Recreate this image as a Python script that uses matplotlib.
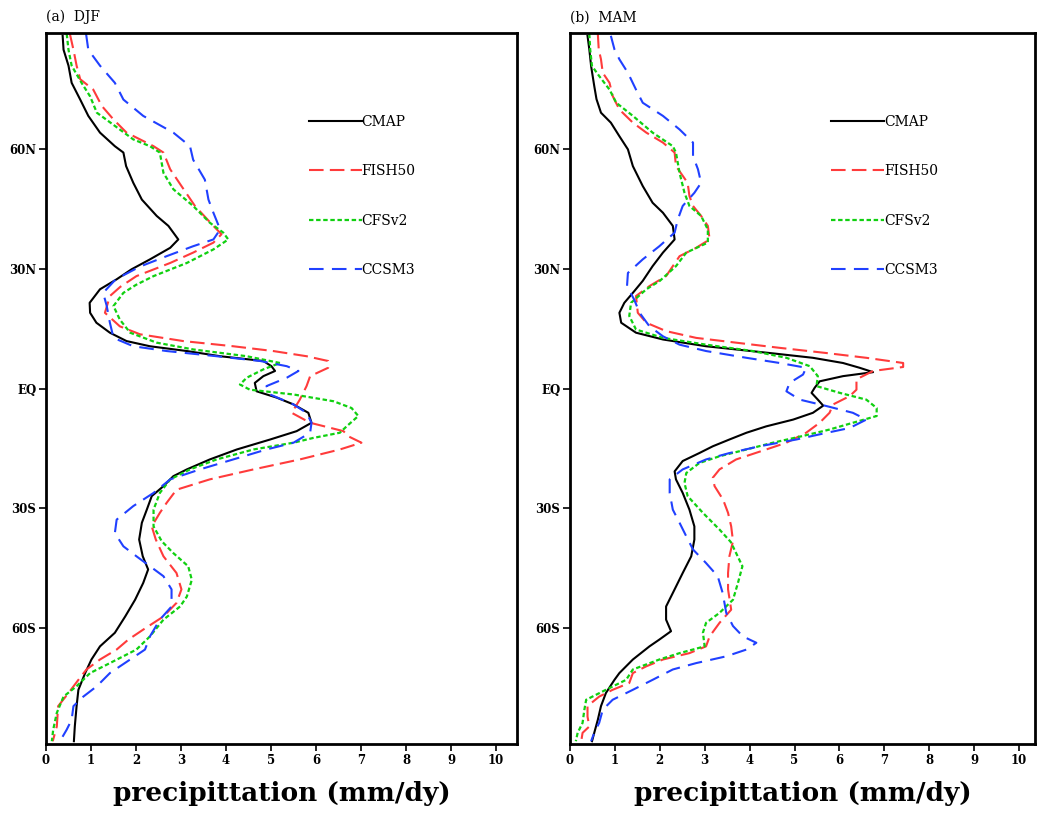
import matplotlib
matplotlib.use("Agg")
import matplotlib.pyplot as plt

# ---------------- data: (a) DJF ----------------
djf_cmap_lat = [88.5, 85, 81, 76.7, 72.5, 68.4, 64.2, 60.8, 59.2, 55.8, 51.6, 47.4, 43.3, 40.8, 37.4, 35.3, 32.4, 29.9,
                27.4, 24.9, 21.5, 19, 16.5, 14, 11.9, 10.6, 9.4, 8.1, 6.9, 5.6, 4.4, 3.1, 1.4, -0.7, -2.3, -4, -6.1, -8.6,
                -10.7, -12.8, -15.3, -17.8, -20.3, -22, -24.5, -27, -30.4, -33.7, -37.9, -42.1, -45.4, -48.8, -53, -57.2,
                -61.3, -64.7, -68, -71.4, -75.6, -79.7, -84.8, -88.5]
djf_cmap_val = [0.37, 0.39, 0.50, 0.57, 0.76, 0.94, 1.20, 1.53, 1.72, 1.78, 1.94, 2.13, 2.46, 2.72, 2.94, 2.76, 2.31, 1.90,
                1.57, 1.20, 0.97, 0.98, 1.12, 1.42, 1.79, 2.31, 3.13, 3.87, 4.83, 5.01, 5.09, 4.83, 4.64, 4.68, 5.13, 5.50,
                5.83, 5.90, 5.57, 4.98, 4.24, 3.64, 3.13, 2.83, 2.61, 2.35, 2.24, 2.13, 2.07, 2.15, 2.27, 2.16, 1.98, 1.76,
                1.53, 1.20, 1.01, 0.87, 0.72, 0.68, 0.64, 0.62]

djf_fish_lat = [89, 85, 81, 77.6, 75, 70.9, 67.5, 64.2, 60.8, 59.2, 55, 50.8, 45.8, 40.8, 38.7, 36.6, 34.1, 31.5, 28.2,
                25.5, 23.2, 19, 15.6, 13.6, 11.9, 10.6, 9.4, 8.1, 6.9, 5.2, 3.1, 0.6, -2.8, -6.1, -8.6, -10.7, -12,
                -13.6, -15.3, -17.8, -20.3, -22.8, -25.4, -28.7, -31.2, -34.6, -37.9, -42.1, -46.3, -50.4, -53.8, -57.2,
                -60.5, -63, -65.5, -68, -70.5, -73.1, -76.4, -79.7, -84.8, -88.5]
djf_fish_val = [0.53, 0.61, 0.68, 0.76, 1.05, 1.24, 1.50, 1.79, 2.39, 2.61, 2.76, 3.01, 3.31, 3.72, 3.90, 3.72, 3.27, 2.76,
                2.01, 1.65, 1.42, 1.31, 1.64, 2.09, 3.05, 4.16, 5.05, 5.79, 6.27, 6.27, 5.87, 5.79, 5.64, 5.46, 5.87, 6.61,
                6.72, 7.01, 6.53, 5.64, 4.61, 3.64, 2.90, 2.68, 2.53, 2.35, 2.44, 2.61, 2.90, 3.01, 2.90, 2.61, 2.16, 1.83,
                1.57, 1.20, 0.90, 0.72, 0.50, 0.27, 0.24, 0.15]

djf_cfs_lat = [89, 85, 81, 76.7, 73.3, 69.2, 65.9, 62.5, 60.8, 59.2, 54.1, 50, 45.8, 41.6, 39.1, 37.4, 34.9, 31.5, 28.2,
               26, 24, 20.7, 17.3, 14, 11.5, 9.8, 8.1, 6.4, 4.8, 2.7, 1.0, -0.3, -1.5, -3.2, -4.9, -6.9, -9.5, -11.1,
               -12.4, -13.6, -15.3, -17.8, -20.3, -22.8, -26.2, -30.4, -34.6, -38.3, -41.3, -44.6, -48, -52.2, -54.7,
               -58, -62.2, -65.5, -68.9, -71.4, -74.7, -77.3, -81.4, -85.6, -88.5]
djf_cfs_val = [0.46, 0.50, 0.57, 0.79, 0.98, 1.13, 1.53, 1.94, 2.31, 2.53, 2.61, 2.83, 3.27, 3.64, 3.94, 4.05, 3.72, 3.13,
               2.39, 2.00, 1.72, 1.50, 1.64, 1.87, 2.46, 3.27, 4.46, 5.20, 4.83, 4.46, 4.31, 4.53, 5.50, 6.39, 6.79, 6.94,
               6.68, 6.53, 5.94, 5.50, 4.61, 3.79, 3.20, 2.76, 2.53, 2.39, 2.39, 2.57, 2.83, 3.16, 3.24, 3.13, 2.98, 2.61,
               2.31, 2.01, 1.42, 0.98, 0.68, 0.39, 0.24, 0.16, 0.13]

djf_ccsm_lat = [89, 85, 81, 76.7, 72.5, 68.4, 64.2, 60.8, 57.4, 52.4, 47.4, 44.1, 39.9, 37.4, 35.7, 33.2, 30.6, 27.4, 24,
                20.7, 16.5, 12.7, 10.6, 9.4, 8.1, 6.9, 5.6, 4.4, 2.7, 0.6, -1.5, -4, -6.1, -8.6, -11.1, -13.6, -15.3,
                -17.8, -20.3, -22.8, -26.2, -29.5, -32.9, -36.3, -39.6, -42.1, -44.6, -47.1, -50.4, -54.7, -58, -62.2,
                -65.5, -68, -71.4, -74.7, -77.3, -79.7, -83.1, -85.6, -88.5]
djf_ccsm_val = [0.89, 0.94, 1.20, 1.53, 1.72, 2.16, 2.83, 3.20, 3.27, 3.53, 3.61, 3.72, 3.87, 3.72, 3.27, 2.68, 2.09, 1.55,
                1.27, 1.35, 1.42, 1.50, 1.94, 2.68, 3.79, 4.76, 5.35, 5.61, 5.35, 4.90, 4.98, 5.50, 5.79, 5.90, 5.87, 5.50,
                4.90, 4.16, 3.42, 2.76, 2.39, 1.94, 1.57, 1.53, 1.72, 2.01, 2.31, 2.61, 2.79, 2.79, 2.53, 2.31, 2.20, 1.87,
                1.42, 1.13, 0.83, 0.61, 0.57, 0.46, 0.31]

# ---------------- data: (b) MAM ----------------
mam_cmap_lat = [88.5, 85.1, 80.9, 75.9, 72.6, 69.2, 66.7, 63.3, 60, 55.8, 50.8, 46.6, 44.1, 40.8, 37.4, 34.1, 30.7, 27,
                24, 21.5, 19, 16.5, 14, 12.3, 10.6, 8.9, 7.7, 6.4, 5.2, 4.1, 3.1, 1.8, 0.2, -1.1, -2.8, -4.3, -6.1, -7.8,
                -9.5, -11.1, -12.8, -14.5, -16.2, -18.2, -20.8, -22.8, -26.2, -30.4, -34.6, -37.9, -42.1, -46.3, -50.4,
                -54.7, -58, -60.9, -63, -64.7, -68, -71.4, -73.1, -76.4, -79.7, -83.1, -86.4, -88.5]
mam_cmap_val = [0.39, 0.43, 0.47, 0.54, 0.59, 0.69, 0.91, 1.10, 1.29, 1.40, 1.62, 1.84, 2.07, 2.29, 2.33, 2.07, 1.84, 1.62,
                1.40, 1.21, 1.10, 1.14, 1.47, 2.07, 3.03, 4.45, 5.41, 6.08, 6.45, 6.75, 6.08, 5.56, 5.45, 5.38, 5.52, 5.64,
                5.41, 4.97, 4.37, 3.93, 3.55, 3.18, 2.88, 2.51, 2.33, 2.36, 2.51, 2.66, 2.77, 2.77, 2.70, 2.51, 2.33, 2.14,
                2.14, 2.25, 1.99, 1.77, 1.40, 1.10, 0.99, 0.80, 0.69, 0.62, 0.54, 0.49]

mam_fish_lat = [89, 85.1, 82.6, 79.2, 76.7, 73.4, 70, 66.7, 64.2, 61.7, 59.2, 55.8, 51.6, 48.3, 45.8, 43.3, 40.8, 37.4,
                35.3, 33.2, 30.7, 28.2, 25.7, 23.2, 19, 16.5, 14.4, 12.7, 11.5, 10.2, 8.9, 7.7, 6.4, 5.4, 4.4, 2.3, -0.3,
                -1.9, -4, -6.1, -8.6, -11.1, -13.6, -15.3, -17.8, -20.3, -22.4, -24.5, -27.9, -31.2, -34.6, -38.3, -42.1,
                -46.3, -50.4, -55.5, -58.8, -62.2, -64.7, -66.4, -68, -69.7, -71.4, -73.9, -75.6, -77.3, -79.7, -82.3,
                -84.8, -86.4, -88.5]
mam_fish_val = [0.62, 0.64, 0.69, 0.73, 0.88, 0.95, 1.10, 1.40, 1.70, 2.07, 2.33, 2.36, 2.62, 2.66, 2.74, 2.92, 3.07, 3.11,
                2.81, 2.44, 2.29, 2.14, 1.77, 1.47, 1.51, 1.70, 2.14, 2.81, 3.70, 4.67, 5.71, 6.60, 7.42, 7.42, 6.75, 6.38,
                6.38, 6.23, 5.86, 5.78, 5.56, 5.26, 4.82, 4.37, 3.70, 3.33, 3.18, 3.22, 3.41, 3.52, 3.59, 3.63, 3.55, 3.52,
                3.52, 3.59, 3.33, 3.11, 3.03, 2.66, 2.07, 1.70, 1.40, 1.32, 0.95, 0.65, 0.39, 0.39, 0.43, 0.28, 0.25]

mam_cfs_lat = [89, 85, 80.9, 78.4, 75, 71.7, 68.4, 64.2, 60.8, 59.2, 54.1, 49.1, 45.8, 43.3, 39.9, 36.6, 34.1, 30.7, 27,
               24.9, 21.5, 18.2, 14.8, 12.7, 11, 9.4, 7.7, 5.6, 3.1, 0.6, -1.1, -2.8, -4.9, -6.9, -8.6, -10.3, -11.9,
               -13.6, -15.3, -17, -18.7, -21.2, -23.7, -27, -31.2, -35.4, -38.5, -41.3, -44.6, -48.8, -53, -56.3, -58.8,
               -61.3, -64.7, -66.4, -68, -70.5, -73.1, -75.6, -78.1, -80.6, -83.9, -86.4, -88.5]
mam_cfs_val = [0.43, 0.45, 0.49, 0.65, 0.88, 1.03, 1.40, 1.84, 2.29, 2.36, 2.44, 2.55, 2.66, 2.92, 3.07, 3.07, 2.59, 2.36,
               2.00, 1.70, 1.36, 1.32, 1.47, 2.07, 3.03, 4.07, 4.82, 5.34, 5.52, 5.49, 6.01, 6.60, 6.83, 6.83, 6.30, 5.78,
               5.19, 4.52, 3.93, 3.33, 2.88, 2.59, 2.55, 2.62, 2.96, 3.33, 3.58, 3.70, 3.84, 3.74, 3.63, 3.33, 3.03, 2.96,
               3.00, 2.44, 1.99, 1.40, 1.25, 0.80, 0.36, 0.32, 0.28, 0.17, 0.13]

mam_ccsm_lat = [88.5, 85.1, 82.6, 79.2, 75, 71.7, 68.4, 65, 61.7, 58.3, 55, 51.6, 49.1, 45.8, 42.4, 39.1, 35.7, 32.4, 29,
                25.7, 22.3, 19, 15.6, 13.1, 11, 9.4, 7.7, 6.4, 5.2, 3.5, 1.4, -0.7, -2.8, -4.4, -6.1, -7.8, -9.9, -11.5,
                -12.8, -14.5, -16.2, -17.8, -20.3, -22.8, -26.2, -30.4, -33.7, -37.1, -40.4, -43.8, -47.1, -51.3, -56.3,
                -59.6, -62.2, -63.8, -65.5, -67.2, -68.9, -70.5, -73.1, -75.6, -78.1, -80.6, -83.9, -86.4, -88.5]
mam_ccsm_val = [0.91, 0.99, 1.10, 1.29, 1.47, 1.62, 2.07, 2.44, 2.74, 2.74, 2.85, 2.92, 2.77, 2.51, 2.40, 2.33, 1.99, 1.62,
                1.29, 1.27, 1.43, 1.55, 1.77, 2.07, 2.44, 3.03, 3.93, 4.67, 5.26, 5.19, 4.89, 4.82, 5.12, 5.71, 6.30, 6.60,
                6.23, 5.56, 5.04, 4.22, 3.55, 3.03, 2.51, 2.22, 2.22, 2.29, 2.44, 2.59, 2.74, 3.03, 3.29, 3.40, 3.48, 3.63,
                3.85, 4.15, 3.93, 3.48, 2.81, 2.29, 1.84, 1.40, 0.95, 0.73, 0.65, 0.54, 0.47]

series_names = ["CMAP", "FISH50", "CFSv2", "CCSM3"]
panel_titles = ["(a)  DJF", "(b)  MAM"]
ytick_vals = [60, 30, 0, -30, -60]
ytick_labels = ["60N", "30N", "EQ", "30S", "60S"]
xtick_vals = list(range(0, 11))
xlabel_text = "precipittation (mm/dy)"

# ---------------- style ----------------
colors = ["black", "#ff3b3b", "#10d010", "#2040ff"]
dash_styles = ["-", (0, (7, 3)), (0, (2.0, 1.2)), (0, (7, 4))]
SERIF = ["DejaVu Serif"]

fig = plt.figure(figsize=(10.37, 8.17), dpi=100)
ax1 = fig.add_axes([46 / 1037, 73 / 817, 471 / 1037, 711 / 817])
ax2 = fig.add_axes([570 / 1037, 73 / 817, 465 / 1037, 711 / 817])

panels = [
    (ax1, [(djf_cmap_lat, djf_cmap_val), (djf_fish_lat, djf_fish_val),
           (djf_cfs_lat, djf_cfs_val), (djf_ccsm_lat, djf_ccsm_val)], 471 / 45.0, 0.558),
    (ax2, [(mam_cmap_lat, mam_cmap_val), (mam_fish_lat, mam_fish_val),
           (mam_cfs_lat, mam_cfs_val), (mam_ccsm_lat, mam_ccsm_val)], 465 / 44.9, 0.562),
]

for i, (ax, data, xmax, legx) in enumerate(panels):
    for (lat, val), name, c, ls in zip(data, series_names, colors, dash_styles):
        lw = 1.5 if name != "CFSv2" else 1.6
        ax.plot(val, lat, color=c, linestyle=ls, linewidth=lw, label=name)
    ax.set_xlim(0, xmax)
    ax.set_ylim(-89.2, 89.2)
    ax.set_yticks(ytick_vals)
    ax.set_yticklabels(ytick_labels)
    ax.set_xticks(xtick_vals)
    ax.set_xticklabels([str(v) for v in xtick_vals])
    for lab in ax.get_xticklabels() + ax.get_yticklabels():
        lab.set_family(SERIF)
        lab.set_fontsize(8.5)
        lab.set_fontweight("bold")
    ax.tick_params(direction="out", length=5, width=1.2, pad=2)
    for sp in ax.spines.values():
        sp.set_linewidth(2.0)
    ax.set_xlabel(xlabel_text, family=SERIF, fontsize=19, fontweight="bold", labelpad=10)
    ax.text(0.0, 1.012, panel_titles[i], transform=ax.transAxes, family=SERIF, fontsize=10,
            ha="left", va="bottom")
    leg = ax.legend(loc="upper left", bbox_to_anchor=(legx, 0.885), frameon=False,
                    prop={"family": SERIF, "size": 10}, handlelength=3.8, handletextpad=0.0,
                    labelspacing=2.55, borderpad=0, borderaxespad=0)

fig.savefig("out.png", dpi=100)
